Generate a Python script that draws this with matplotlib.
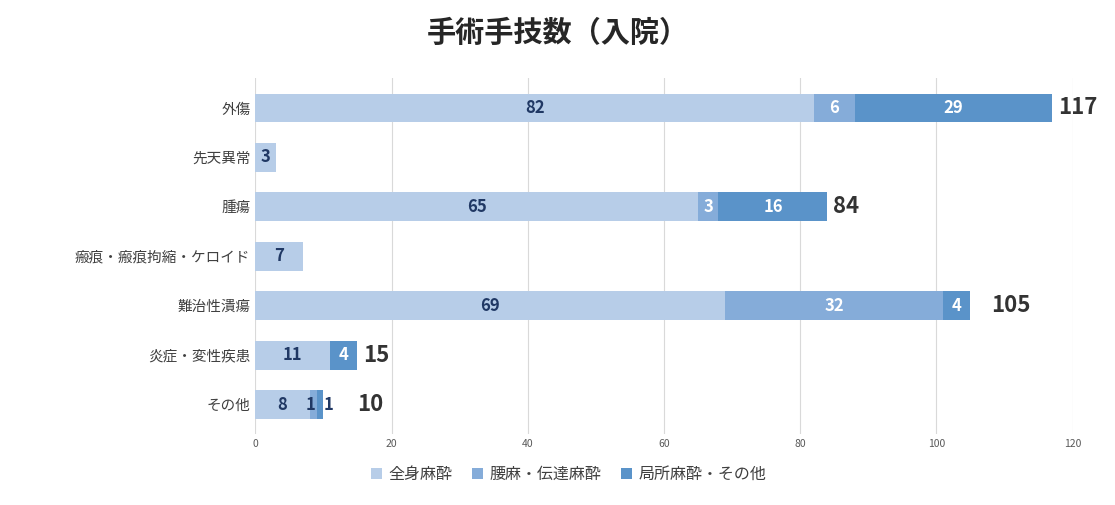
import matplotlib
matplotlib.use("Agg")
import matplotlib.pyplot as plt
import numpy as np

plt.rcParams['font.family'] = ['Noto Sans CJK JP', 'DejaVu Sans']

categories = ["外傷", "先天異常", "腫瘍", "瘢痕・瘢痕拘縮・ケロイド", "難治性潰瘍", "炎症・変性疾患", "その他"]
general = [82, 3, 65, 7, 69, 11, 8]
spinal = [6, 0, 3, 0, 32, 0, 1]
local = [29, 0, 16, 0, 4, 4, 1]
series_names = ["全身麻酔", "腰麻・伝達麻酔", "局所麻酔・その他"]
colors = ["#b7cde8", "#85acd9", "#5a93c9"]
text_colors = ["#203864", "white", "white"]

fig = plt.figure(figsize=(11.15, 5.05), dpi=100)
ax = fig.add_axes([0.229, 0.14, 0.733, 0.705])
y = np.arange(len(categories))
left = np.zeros(len(categories))
for si, (vals, c, tc, name) in enumerate(zip([general, spinal, local], colors, text_colors, series_names)):
    v = np.array(vals, dtype=float)
    ax.barh(y, v, left=left, color=c, height=0.58, label=name)
    for yi, (l, w) in enumerate(zip(left, v)):
        if w > 0:
            col = tc if w >= 3 else "#203864"
            x = l + w / 2
            if w < 2:
                x = l + w / 2 + (-0.4 if si == 1 else 1.3)
            ax.text(x, yi, str(int(w)), ha="center", va="center",
                    fontsize=12, color=col, fontweight="bold")
    left += v

totals = left
label_x = [t + 0.8 for t in totals]
label_x[4] = 108
label_x[6] = 15
for yi, (t, lx) in enumerate(zip(totals, label_x)):
    if yi in (1, 3):
        continue
    ax.text(lx, yi, str(int(t)), ha="left", va="center", fontsize=16,
            fontweight="bold", color="#333333")

ax.set_yticks(y)
ax.set_yticklabels(categories, fontsize=10.5, color="#404040")
ax.set_xlim(0, 120)
ax.set_ylim(6.6, -0.6)
ax.set_xticks(range(0, 121, 20))
ax.tick_params(axis='x', labelsize=7.5, colors="#595959", length=0)
ax.tick_params(axis='y', length=0)
ax.grid(axis='x', color="#d9d9d9", linewidth=0.8)
ax.set_axisbelow(True)
for s in ax.spines.values():
    s.set_visible(False)

fig.suptitle("手術手技数（入院）", fontsize=21, fontweight="bold", color="#262626", y=0.965)
fig.legend(loc="lower center", ncol=3, frameon=False, fontsize=11.5,
           bbox_to_anchor=(0.51, 0.015), handlelength=0.7, handleheight=0.7,
           labelcolor="#404040", columnspacing=1.2, handletextpad=0.4)
fig.savefig("out.png", dpi=100)
